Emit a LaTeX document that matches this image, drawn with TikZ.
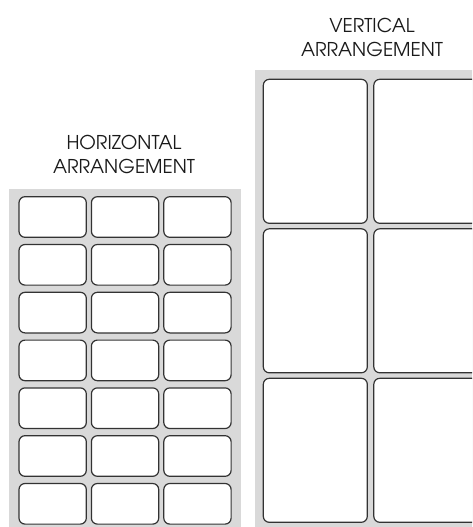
\documentclass[tikz,border=0pt]{standalone}
\usepackage{fontspec}
\setmainfont{TeX Gyre Adventor}
\begin{document}
\begin{tikzpicture}[x=1pt,y=-1pt,
  panel/.style={fill=panelgray,draw=none},
  cell/.style={draw=cellline,fill=white,line width=1.2pt,rounded corners=6pt,anchor=north west,inner sep=0pt,outer sep=0pt},
  smallcell/.style={cell,minimum width=67.3pt,minimum height=40.6pt},
  bigcell/.style={cell,minimum width=104pt,minimum height=144pt},
  ttl/.style={anchor=base,inner sep=0pt,font=\fontsize{19}{22}\selectfont,text=titlegray}]
\definecolor{panelgray}{HTML}{D9D9D9}
\definecolor{cellline}{HTML}{333333}
\definecolor{titlegray}{HTML}{1A1A1A}
\useasboundingbox (0,0) rectangle (472,527);
\clip (0,0) rectangle (472,527);
% left panel
\fill[panel] (9,189) rectangle (241,530);
\foreach \r in {0,...,6}{
  \foreach \c/\xx in {0/19,1/91.4,2/163.8}{
    \node[smallcell] (h-\r-\c) at (\xx,196.7+47.8*\r) {};
  }
}
\node[ttl] (htitleA) at (124,149.5) {HORIZONTAL};
\node[ttl] (htitleB) at (124,173.5) {ARRANGEMENT};
% right panel
\fill[panel] (255,70) rectangle (480,530);
\foreach \r in {0,...,2}{
  \foreach \c/\xx in {0/263.3,1/373.8}{
    \node[bigcell] (v-\r-\c) at (\xx,79.3+149.5*\r) {};
  }
}
\node[ttl] (vtitleA) at (372,32.3) {VERTICAL};
\node[ttl] (vtitleB) at (372,56.7) {ARRANGEMENT};
\end{tikzpicture}
\end{document}
